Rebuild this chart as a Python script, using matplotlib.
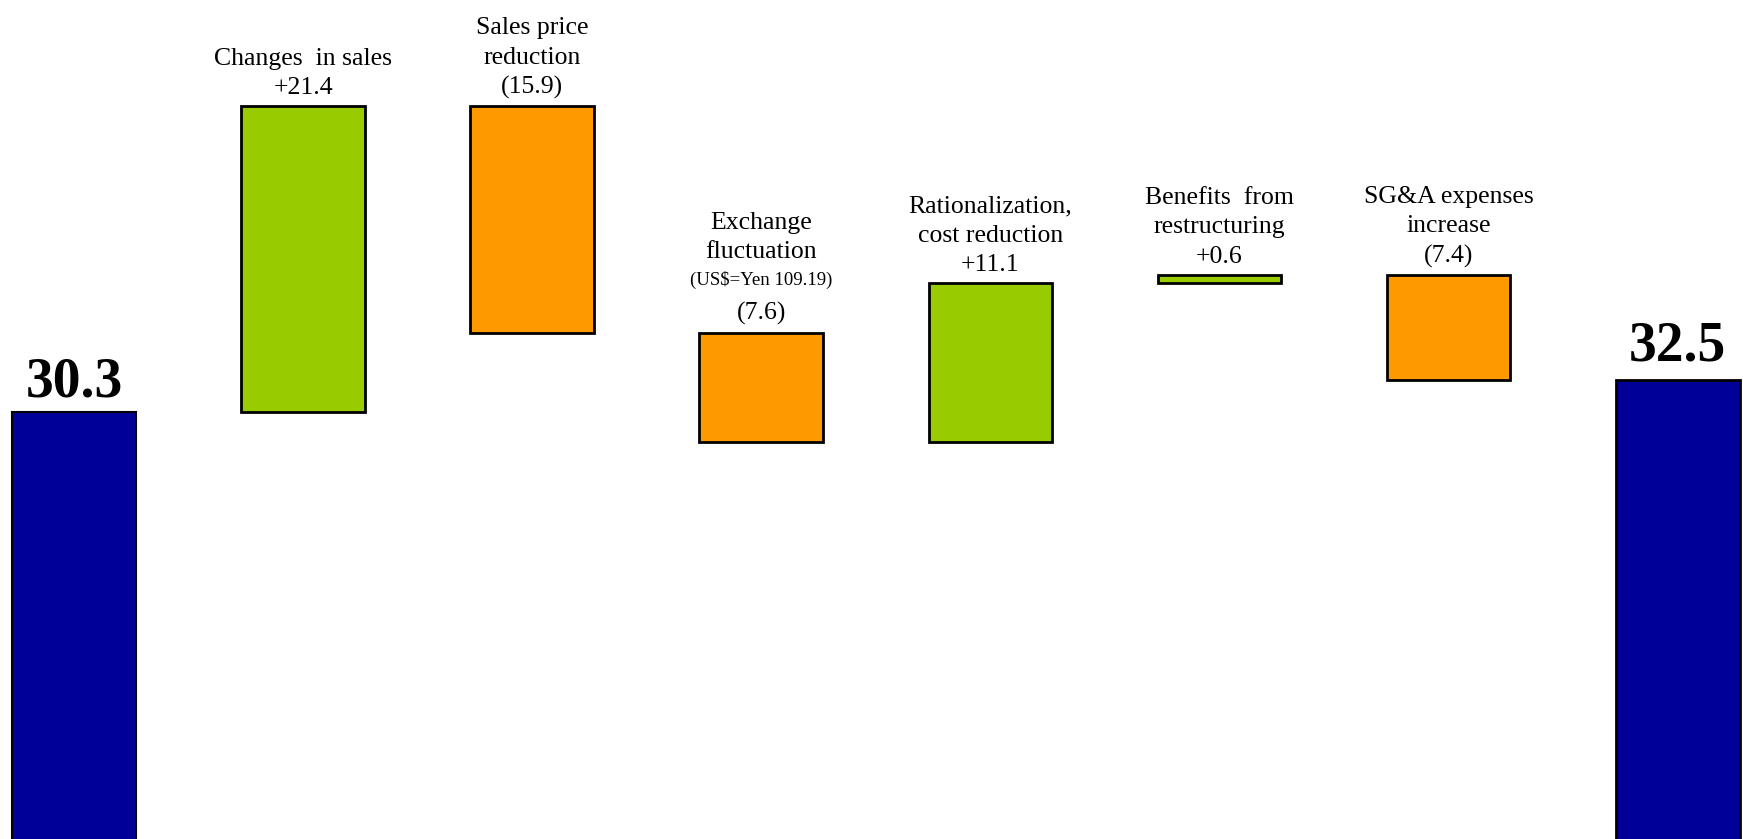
import matplotlib.pyplot as plt
import numpy as np

plt.rcParams['font.family'] = ['Liberation Serif', 'DejaVu Serif']

# waterfall data
start_value = 30.3
end_value = 32.5
changes = [21.4, -15.9, -7.6, 11.1, 0.6, -7.4]
labels = ["Changes  in sales\n+21.4",
          "Sales price\nreduction\n(15.9)",
          "",
          "Rationalization,\ncost reduction\n+11.1",
          "Benefits  from\nrestructuring\n+0.6",
          "SG&A expenses\nincrease\n(7.4)"]

blue = "#000099"
green = "#99CC00"
orange = "#FF9900"

fig = plt.figure(figsize=(17.43, 8.39), dpi=100)
ax = fig.add_axes([0, 0, 1, 1])

width = 0.54
# start total
ax.bar(0, start_value, width=width, color=blue, edgecolor="black", linewidth=1.5)
ax.annotate(f"{start_value}", (0, start_value), xytext=(0, 11), textcoords="offset points",
            ha="center", va="baseline", fontsize=40, fontweight="bold")

level = start_value
for i, ch in enumerate(changes):
    x = i + 1
    lo = level if ch > 0 else level + ch
    col = green if ch > 0 else orange
    ax.bar(x, abs(ch), bottom=lo, width=width, color=col, edgecolor="black", linewidth=2)
    top = lo + abs(ch)
    if labels[i]:
        ax.annotate(labels[i], (x, top), xytext=(0, 8.5), textcoords="offset points",
                    ha="center", va="baseline", fontsize=18.5, linespacing=1.44)
    else:
        # exchange label with a smaller sub line
        ax.annotate("(7.6)", (x, top), xytext=(0, 10), textcoords="offset points",
                    ha="center", va="baseline", fontsize=18.5)
        ax.annotate("(US$=Yen 109.19)", (x, top), xytext=(0, 34.5), textcoords="offset points",
                    ha="center", va="baseline", fontsize=13.5)
        ax.annotate("Exchange\nfluctuation", (x, top), xytext=(0, 54), textcoords="offset points",
                    ha="center", va="baseline", fontsize=18.5, linespacing=1.44)
    level += ch

n = len(changes) + 1
ax.bar(n, end_value, width=width, color=blue, edgecolor="black", linewidth=2)
ax.annotate(f"{end_value}", (n, end_value), xytext=(0, 14), textcoords="offset points",
            ha="center", va="baseline", fontsize=40, fontweight="bold")

ax.set_xlim(-0.323, 7.285)
ax.set_ylim(0.42, 59.1)
ax.axis("off")

fig.savefig("out.png", dpi=100)
